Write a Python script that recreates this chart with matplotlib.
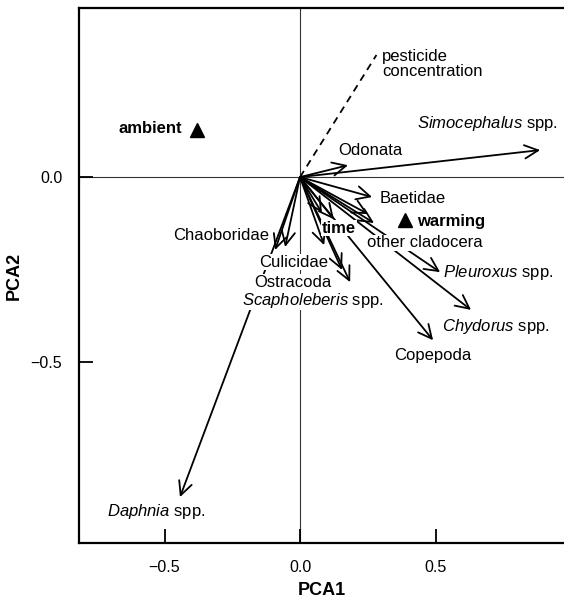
import matplotlib
matplotlib.use("Agg")
import matplotlib.pyplot as plt
from matplotlib.patches import FancyArrowPatch

plt.rcParams['font.family'] = ['Liberation Sans', 'DejaVu Sans']
plt.rcParams['mathtext.fontset'] = 'custom'
plt.rcParams['mathtext.rm'] = 'Liberation Sans'
plt.rcParams['mathtext.it'] = 'Liberation Sans:italic'
plt.rcParams['mathtext.bf'] = 'Liberation Sans:bold'

# Species loadings (arrow tips)
species = ['Simocephalus', 'Odonata', 'Baetidae', 'other cladocera', 'u1',
           'Pleuroxus', 'Chydorus', 'Copepoda', 'Daphnia', 'Chaoboridae',
           'Culicidae', 'u2', 'u3', 'u4', 'Ostracoda', 'Scapholeberis']
pc1 = [0.886, 0.177, 0.266, 0.273, 0.251, 0.517, 0.631, 0.491, -0.443,
       -0.092, -0.055, 0.125, 0.081, 0.089, 0.155, 0.185]
pc2 = [0.073, 0.032, -0.054, -0.124, -0.100, -0.257, -0.359, -0.441, -0.865,
       -0.197, -0.189, -0.114, -0.097, -0.184, -0.251, -0.284]

# Pesticide vector (dashed, no head)
pest = (0.282, 0.33)

# Treatment centroids
treat_names = ['ambient', 'warming']
treat_x = [-0.380, 0.387]
treat_y = [0.127, -0.116]

# Labels: text, x, y, ha, weight
labels = [
    ('pesticide\nconcentration', 0.303, 0.305, 'left', 'normal'),
    (r'$\mathit{Simocephalus}$ spp.', 0.952, 0.146, 'right', 'normal'),
    ('Odonata', 0.258, 0.072, 'center', 'normal'),
    ('ambient', -0.435, 0.130, 'right', 'bold'),
    ('Baetidae', 0.292, -0.057, 'left', 'normal'),
    ('warming', 0.432, -0.119, 'left', 'bold'),
    ('time', 0.144, -0.138, 'center', 'bold'),
    ('other cladocera', 0.247, -0.178, 'left', 'normal'),
    ('Chaoboridae', -0.114, -0.157, 'right', 'normal'),
    ('Culicidae', -0.022, -0.230, 'center', 'normal'),
    ('Ostracoda', -0.026, -0.284, 'center', 'normal'),
    (r'$\mathit{Scapholeberis}$ spp.', 0.048, -0.333, 'center', 'normal'),
    (r'$\mathit{Pleuroxus}$ spp.', 0.528, -0.259, 'left', 'normal'),
    (r'$\mathit{Chydorus}$ spp.', 0.524, -0.403, 'left', 'normal'),
    ('Copepoda', 0.491, -0.481, 'center', 'normal'),
    (r'$\mathit{Daphnia}$ spp.', -0.712, -0.905, 'left', 'normal'),
]

fig = plt.figure(figsize=(5.64, 6.04), dpi=100)
ax = fig.add_axes([79 / 564, 61 / 604, 1 - 79 / 564, 535 / 604])

ax.set_xlim(-0.8155, 0.974)
ax.set_ylim(-0.989, 0.457)

# zero lines
ax.axhline(0, color='#333333', lw=0.8, zorder=1)
ax.axvline(0, color='#333333', lw=0.8, zorder=1)

# species arrows
for x, y in zip(pc1, pc2):
    arr = FancyArrowPatch((0, 0), (x, y), arrowstyle='->,head_length=0.65,head_width=0.32',
                          mutation_scale=15, lw=1.3, color='black',
                          shrinkA=0, shrinkB=0, zorder=2)
    ax.add_patch(arr)

# pesticide vector
ax.plot([0, pest[0]], [0, pest[1]], ls=(0, (4, 3)), color='black', lw=1.3, zorder=2)

# treatment centroids
ax.plot(treat_x, treat_y, ls='none', marker='^', ms=10, color='black', zorder=3)

for txt, x, y, ha, w in labels:
    ax.text(x, y, txt, ha=ha, va='center', fontsize=12, fontweight=w,
            linespacing=1.0, zorder=4,
            bbox=dict(facecolor='white', edgecolor='none', pad=0.5))

ax.set_xticks([-0.5, 0.0, 0.5])
ax.set_xticklabels(['\u22120.5', '0.0', '0.5'])
ax.set_yticks([-0.5, 0.0])
ax.set_yticklabels(['\u22120.5', '0.0'])
ax.tick_params(direction='in', length=10, width=1.3, labelsize=11.5, pad=12)

for s in ['left', 'bottom', 'top']:
    ax.spines[s].set_linewidth(1.6)
ax.spines['right'].set_visible(False)

ax.set_xlabel('PCA1', fontsize=13, fontweight='bold', labelpad=5)
ax.set_ylabel('PCA2', fontsize=13, fontweight='bold', labelpad=6)

fig.savefig('out.png', dpi=100)
